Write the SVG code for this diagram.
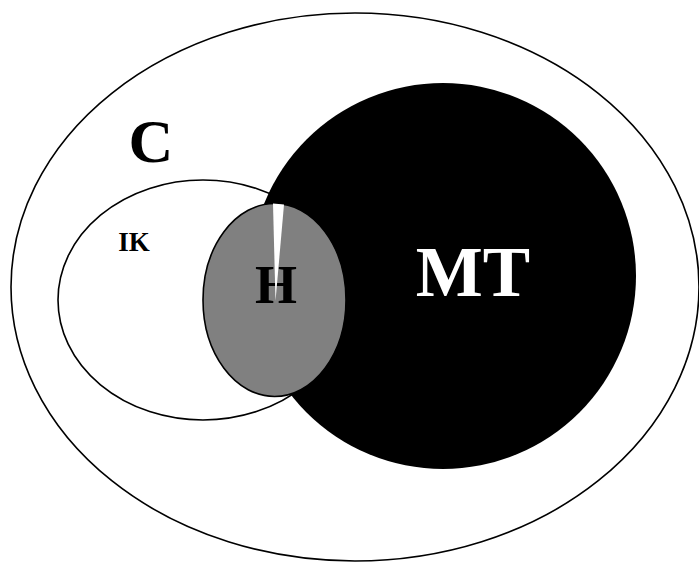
<svg xmlns="http://www.w3.org/2000/svg" width="699" height="562" viewBox="0 0 699 562">
<style>
.ln{stroke:#000;stroke-width:1.6}
.lbl{font-family:"Liberation Serif","Times New Roman",serif;font-weight:bold;text-anchor:middle}
</style>
<rect width="699" height="562" fill="#fff"/>
<g id="C">
<ellipse cx="355" cy="287" rx="344" ry="274" fill="#fff" class="ln"/>
<text class="lbl" x="151" y="162" font-size="62">C</text>
</g>
<g id="IK">
<ellipse cx="203" cy="300" rx="145" ry="120" fill="#fff" class="ln"/>
<text class="lbl" x="134" y="251" font-size="27">IK</text>
</g>
<g id="MT">
<circle cx="443" cy="276" r="193" fill="#000"/>
<text class="lbl" x="473" y="296" font-size="71" fill="#fff">MT</text>
</g>
<g id="H">
<ellipse cx="274.5" cy="300" rx="71.5" ry="96.5" fill="#808080" class="ln"/>
<text class="lbl" x="276" y="303" font-size="54">H</text>
<path d="M275.5 301 L273 203.5 L284 204.5 Z" fill="#fff"/>
</g>
<g id="connectors"/>
</svg>
